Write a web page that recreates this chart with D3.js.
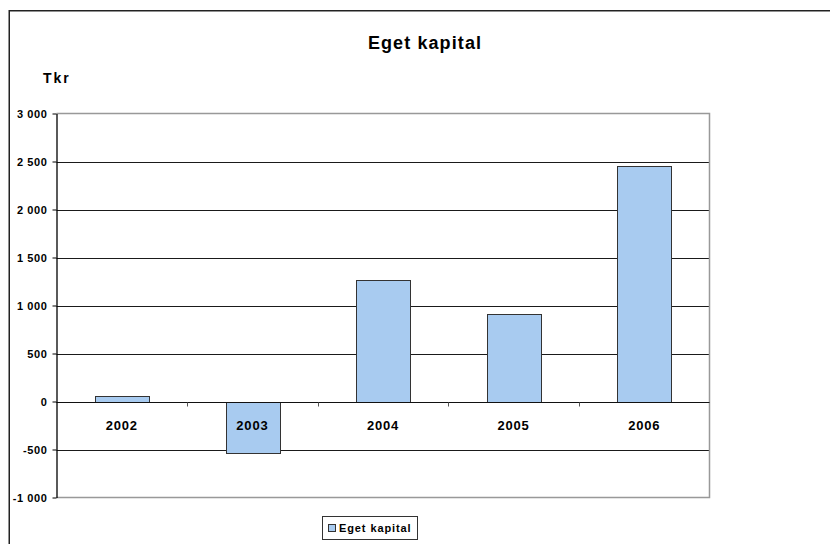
<!DOCTYPE html>
<html><head><meta charset="utf-8">
<script src="https://cdn.jsdelivr.net/npm/d3@7"></script>
<style>body{margin:0;background:#fff}svg{display:block;font-family:Arial,"Liberation Sans",sans-serif}</style>
</head><body><svg id="c" width="830" height="544"></svg>
<script>
const categories = ["2002","2003","2004","2005","2006"];
const values = [60, -540, 1270, 910, 2455];
const yTicks = [-1000,-500,0,500,1000,1500,2000,2500,3000];
const seriesName = "Eget kapital";
const title = "Eget kapital";
const unitLabel = "Tkr";

const svg = d3.select("#c");
const L = 56.5, R = 709.5, T = 113.5, B = 497.5;
const x = d3.scaleBand().domain(categories).range([L, R]).paddingInner(0.59).paddingOuter(0.295);
const xb = d3.scaleBand().domain(categories).range([L, R]).padding(0);
const y = d3.scaleLinear().domain([-1000, 3000]).range([B, T]);
const fmt = v => d3.format(",")(v).replace(/,/g, " ").replace("\u2212", "-");

// outer frame
svg.append("rect").attr("x",9.25).attr("y",10.75).attr("width",900).attr("height",600)
  .attr("fill","none").attr("stroke","#222").attr("stroke-width",1.5);

// title
svg.append("text").attr("x",425).attr("y",49).attr("text-anchor","middle")
  .attr("font-size",18).attr("font-weight","bold").attr("letter-spacing",1.1).text(title);
svg.append("text").attr("x",43).attr("y",83)
  .attr("font-size",14).attr("font-weight","bold").attr("letter-spacing",2).text(unitLabel);

// gridlines
const inner = yTicks.filter(v => v !== 3000 && v !== -1000);
svg.append("g").selectAll("line").data(inner).join("line")
  .attr("x1",L).attr("x2",R).attr("y1",d=>Math.round(y(d))+0.5).attr("y2",d=>Math.round(y(d))+0.5)
  .attr("stroke","#1a1a1a").attr("stroke-width",1);
// plot border (gray) top/right/bottom
svg.append("path").attr("d",`M${L},${T}H${R}V${B}H${L}`).attr("fill","none")
  .attr("stroke","#999").attr("stroke-width",1.5);

// bars
svg.append("g").selectAll("rect").data(values).join("rect")
  .attr("x",(d,i)=>Math.round(x(categories[i]))+0.5)
  .attr("width",Math.round(x.bandwidth()))
  .attr("y",d=>Math.round(y(Math.max(0,d)))+0.5)
  .attr("height",d=>Math.abs(Math.round(y(d))-Math.round(y(0))))
  .attr("fill","#a8cbf0").attr("stroke","#333").attr("stroke-width",1);

// zero axis
const y0 = Math.round(y(0))+0.5;
svg.append("line").attr("x1",L).attr("x2",R).attr("y1",y0).attr("y2",y0).attr("stroke","#111");
svg.append("g").selectAll("line").data(categories.slice(1)).join("line")
  .attr("x1",d=>Math.round(xb(d))+0.5).attr("x2",d=>Math.round(xb(d))+0.5)
  .attr("y1",y0).attr("y2",y0+4).attr("stroke","#555");
svg.append("g").selectAll("text").data(categories).join("text")
  .attr("x",d=>xb(d)+xb.bandwidth()/2).attr("y",y0+27).attr("text-anchor","middle")
  .attr("font-size",13).attr("font-weight","bold").attr("letter-spacing",0.8).text(d=>d);

// y axis
const ya = svg.append("g").attr("transform",`translate(${L},0)`)
  .call(d3.axisLeft(y).tickValues(yTicks).tickSize(4).tickSizeOuter(0).tickFormat(fmt));
ya.select(".domain").attr("stroke","#000").attr("stroke-width",1.3);
ya.selectAll(".tick line").attr("stroke","#000");
ya.selectAll(".tick text").attr("font-size",11).attr("font-weight","bold").attr("letter-spacing",0.6)
  .attr("font-family","Arial,'Liberation Sans',sans-serif").attr("fill","#000").attr("x",-9);

// legend
const lg = svg.append("g");
lg.append("rect").attr("x",322.5).attr("y",516.5).attr("width",95).attr("height",23)
  .attr("fill","#fff").attr("stroke","#333");
lg.append("rect").attr("x",328.5).attr("y",524.5).attr("width",7).attr("height",7)
  .attr("fill","#a8cbf0").attr("stroke","#333");
lg.append("text").attr("x",339).attr("y",532).attr("font-size",11).attr("font-weight","bold")
  .attr("letter-spacing",0.9).text(seriesName);
</script></body></html>
